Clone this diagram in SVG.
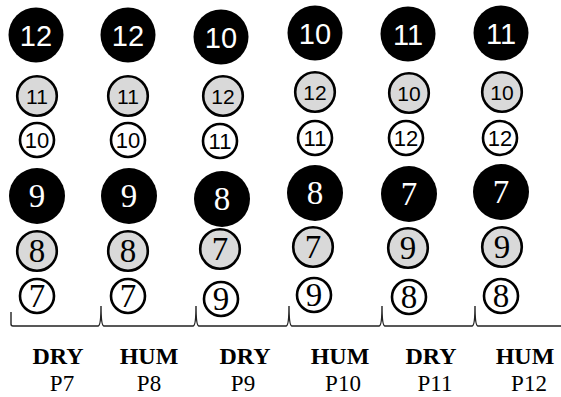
<svg xmlns="http://www.w3.org/2000/svg" width="561" height="397" viewBox="0 0 561 397">
<style>
.blk{fill:#000;stroke:none}
.gry{fill:#d9d9d9;stroke:#000;stroke-width:2.6}
.wht{fill:#fff;stroke:#000;stroke-width:2.6}
.sb{font-family:"Liberation Sans",Arial,sans-serif;font-size:29px;fill:#fff;text-anchor:middle}
.sm{font-family:"Liberation Sans",Arial,sans-serif;font-size:21px;fill:#000;text-anchor:middle}
.ss{font-family:"Liberation Sans",Arial,sans-serif;font-size:22px;fill:#000;text-anchor:middle}
.rb{font-family:"Liberation Serif","Times New Roman",serif;font-size:33px;fill:#fff;text-anchor:middle}
.rm{font-family:"Liberation Serif","Times New Roman",serif;font-size:33px;fill:#000;text-anchor:middle}
.lb{font-family:"Liberation Serif","Times New Roman",serif;font-size:24px;font-weight:bold;fill:#000;text-anchor:middle}
.lp{font-family:"Liberation Serif","Times New Roman",serif;font-size:23px;fill:#000;text-anchor:middle}
.br{fill:none;stroke:#222;stroke-width:1.4}
</style>
<g id="col-p7">
<circle class="blk" cx="36" cy="35" r="27.5"/><text class="sb" x="36" y="45.5">12</text>
<circle class="gry" cx="37" cy="96" r="19.8"/><text class="sm" x="37" y="103.5">11</text>
<circle class="wht" cx="37" cy="140" r="17"/><text class="ss" x="37" y="148">10</text>
<circle class="blk" cx="37" cy="196" r="28"/><text class="rb" x="37" y="207">9</text>
<circle class="gry" cx="37" cy="251" r="19.8"/><text class="rm" x="37" y="262">8</text>
<circle class="wht" cx="37" cy="296" r="17"/><text class="rm" x="37" y="307">7</text>
</g>
<g id="col-p8">
<circle class="blk" cx="128" cy="35" r="27.5"/><text class="sb" x="128" y="45.5">12</text>
<circle class="gry" cx="128" cy="96" r="19.8"/><text class="sm" x="128" y="103.5">11</text>
<circle class="wht" cx="128" cy="140" r="17"/><text class="ss" x="128" y="148">10</text>
<circle class="blk" cx="129" cy="196" r="28"/><text class="rb" x="129" y="207">9</text>
<circle class="gry" cx="128" cy="251" r="19.8"/><text class="rm" x="128" y="262">8</text>
<circle class="wht" cx="128" cy="296" r="17"/><text class="rm" x="128" y="307">7</text>
</g>
<g id="col-p9">
<circle class="blk" cx="221" cy="37" r="27.5"/><text class="sb" x="221" y="47.5">10</text>
<circle class="gry" cx="223" cy="96" r="19.8"/><text class="sm" x="223" y="103.5">12</text>
<circle class="wht" cx="220" cy="141" r="17"/><text class="ss" x="220" y="149">11</text>
<circle class="blk" cx="222" cy="199" r="28"/><text class="rb" x="222" y="210">8</text>
<circle class="gry" cx="220" cy="249" r="19.8"/><text class="rm" x="220" y="260">7</text>
<circle class="wht" cx="221" cy="299" r="17"/><text class="rm" x="221" y="310">9</text>
</g>
<g id="col-p10">
<circle class="blk" cx="315" cy="33" r="27.5"/><text class="sb" x="315" y="43.5">10</text>
<circle class="gry" cx="315" cy="92" r="19.8"/><text class="sm" x="315" y="99.5">12</text>
<circle class="wht" cx="315" cy="138" r="17"/><text class="ss" x="315" y="146">11</text>
<circle class="blk" cx="315" cy="193" r="28"/><text class="rb" x="315" y="204">8</text>
<circle class="gry" cx="313" cy="247" r="19.8"/><text class="rm" x="313" y="258">7</text>
<circle class="wht" cx="314" cy="295" r="17"/><text class="rm" x="314" y="306">9</text>
</g>
<g id="col-p11">
<circle class="blk" cx="408" cy="34" r="27.5"/><text class="sb" x="408" y="44.5">11</text>
<circle class="gry" cx="409" cy="93" r="19.8"/><text class="sm" x="409" y="100.5">10</text>
<circle class="wht" cx="406" cy="138" r="17"/><text class="ss" x="406" y="146">12</text>
<circle class="blk" cx="409" cy="194" r="28"/><text class="rb" x="409" y="205">7</text>
<circle class="gry" cx="408" cy="248" r="19.8"/><text class="rm" x="408" y="259">9</text>
<circle class="wht" cx="409" cy="297" r="17"/><text class="rm" x="409" y="308">8</text>
</g>
<g id="col-p12">
<circle class="blk" cx="501" cy="33" r="27.5"/><text class="sb" x="501" y="43.5">11</text>
<circle class="gry" cx="502" cy="92" r="19.8"/><text class="sm" x="502" y="99.5">10</text>
<circle class="wht" cx="500" cy="138" r="17"/><text class="ss" x="500" y="146">12</text>
<circle class="blk" cx="501" cy="192" r="28"/><text class="rb" x="501" y="203">7</text>
<circle class="gry" cx="502" cy="247" r="19.8"/><text class="rm" x="502" y="258">9</text>
<circle class="wht" cx="501" cy="296" r="17"/><text class="rm" x="501" y="307">8</text>
</g>
<g id="connectors">
<path class="br" d="M11,312 L11,324 Q11,326 13,326 L98,326 Q101,326 101,306 Q101,326 104,326 L193,326 Q196,326 196,306 Q196,326 199,326 L286,326 Q289,326 289,306 Q289,326 292,326 L379,326 Q382,326 382,306 Q382,326 385,326 L472,326 Q475,326 475,306 Q475,326 478,326 L561,326"/>
</g>
<g id="labels">
<text class="lb" x="58" y="364">DRY</text>
<text class="lb" x="149" y="364">HUM</text>
<text class="lb" x="245" y="364">DRY</text>
<text class="lb" x="340" y="364">HUM</text>
<text class="lb" x="431" y="364">DRY</text>
<text class="lb" x="525" y="364">HUM</text>
<text class="lp" x="62" y="391">P7</text>
<text class="lp" x="149" y="391">P8</text>
<text class="lp" x="243" y="391">P9</text>
<text class="lp" x="343" y="391">P10</text>
<text class="lp" x="435" y="391">P11</text>
<text class="lp" x="529" y="391">P12</text>
</g>
</svg>
